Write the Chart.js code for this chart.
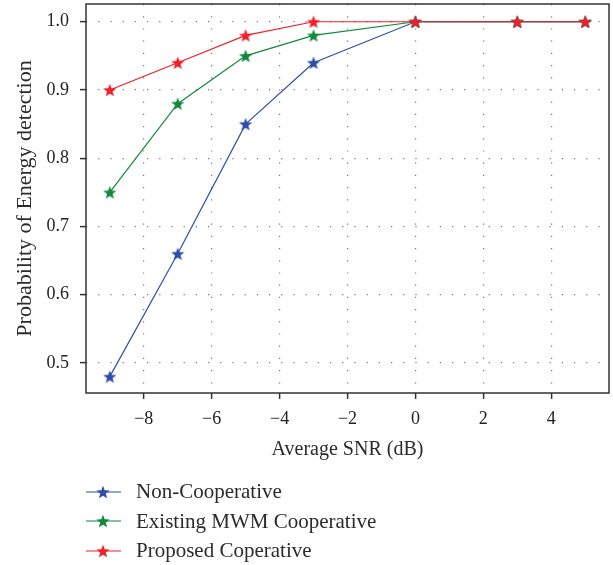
<!DOCTYPE html>
<html>
<head>
<meta charset="utf-8">
<script src="https://cdn.jsdelivr.net/npm/chart.js@4/dist/chart.umd.min.js"></script>
<style>
    body { margin: 0; background: #fff; font-family: "Liberation Serif", "DejaVu Serif", serif; }
    #wrap { position: relative; width: 613px; height: 470px; }
    #legend { padding-left: 86px; margin-top: 7px; }
    .item { display: flex; align-items: center; height: 29.5px; font-size: 21px; color: #2b2b2b; }
    .item canvas { margin-right: 15px; }
</style>
</head>
<body>
<div id="wrap"><canvas id="snrChart"></canvas></div>
<div id="legend"></div>
<script>
const snrValues = [-9, -7, -5, -3, 0, 3, 5];
const nonCooperative = [0.48, 0.66, 0.85, 0.94, 1.0, 1.0, 1.0];
const existingMwm = [0.75, 0.88, 0.95, 0.98, 1.0, 1.0, 1.0];
const proposedCoop = [0.90, 0.94, 0.98, 1.0, 1.0, 1.0, 1.0];

const xTicks = [-8, -6, -4, -2, 0, 2, 4];
const yTicks = [0.5, 0.6, 0.7, 0.8, 0.9, 1.0];

const seriesNames = ['Non-Cooperative', 'Existing MWM Cooperative', 'Proposed Coperative'];
const seriesColors = ['#2f4fa6', '#11893d', '#f0202a'];
const seriesValues = [nonCooperative, existingMwm, proposedCoop];

const FONT = '"Liberation Serif", "DejaVu Serif", serif';

function starImage(color, size) {
    const c = document.createElement('canvas');
    c.width = size; c.height = size;
    const g = c.getContext('2d');
    const cx = size / 2, cy = size / 2 + size * 0.05;
    const R = size / 2, r = R * 0.42;
    g.beginPath();
    for (let i = 0; i < 10; i++) {
        const rad = i % 2 === 0 ? R : r;
        const a = -Math.PI / 2 + i * Math.PI / 5;
        g.lineTo(cx + rad * Math.cos(a), cy + rad * Math.sin(a));
    }
    g.closePath();
    g.fillStyle = color;
    g.fill();
    return c;
}

const frame = {
    id: 'frame',
    afterDatasetsDraw(chart) {
        const a = chart.chartArea;
        const ctx = chart.ctx;
        ctx.save();
        ctx.strokeStyle = '#333';
        ctx.lineWidth = 1.5;
        ctx.strokeRect(a.left, a.top, a.right - a.left, a.bottom - a.top);
        ctx.restore();
    }
};

function noPad(axis) {
    axis.paddingTop = 0;
    axis.paddingBottom = 0;
    axis.paddingLeft = 0;
    axis.paddingRight = 0;
}

const datasets = seriesNames.map((name, i) => ({
    label: name,
    data: snrValues.map((x, j) => ({ x: x, y: seriesValues[i][j] })),
    borderColor: seriesColors[i],
    backgroundColor: seriesColors[i],
    borderWidth: 1.2,
    pointStyle: starImage(seriesColors[i], 14),
    pointRadius: 7,
    order: 3 - i
}));

const ctx = document.getElementById('snrChart').getContext('2d');
new Chart(ctx, {
    type: 'line',
    data: { datasets: datasets },
    plugins: [frame],
    options: {
        responsive: true,
        maintainAspectRatio: false,
        animation: false,
        layout: { autoPadding: false, padding: { top: 4, right: 4, left: 0, bottom: 0 } },
        scales: {
            x: {
                type: 'linear',
                min: -9.7,
                max: 5.7,
                afterBuildTicks: axis => { axis.ticks = xTicks.map(v => ({ value: v })); },
                afterFit: axis => { axis.height = 77; noPad(axis); },
                ticks: {
                    font: { family: FONT, size: 18 },
                    color: '#222',
                    padding: 9,
                    maxRotation: 0,
                    callback: v => (v < 0 ? '\u2212' + Math.abs(v) : String(v))
                },
                grid: { color: '#777', lineWidth: 1.2, tickColor: '#333', tickLength: 6, tickWidth: 1.5 },
                border: { display: false, dash: [1.2, 11] },
                title: { display: true, text: 'Average SNR (dB)', font: { family: FONT, size: 20 }, color: '#2b2b2b', padding: { top: 4, bottom: 8 } }
            },
            y: {
                min: 0.456,
                max: 1.026,
                afterBuildTicks: axis => { axis.ticks = yTicks.map(v => ({ value: v })); },
                afterFit: axis => { axis.width = 86; noPad(axis); },
                ticks: {
                    font: { family: FONT, size: 18 },
                    color: '#222',
                    padding: 11,
                    callback: v => v.toFixed(1)
                },
                grid: { color: '#777', lineWidth: 1.2, tickColor: '#333', tickLength: 6, tickWidth: 1.5 },
                border: { display: false, dash: [1.2, 11] },
                title: { display: true, text: 'Probability of Energy detection', font: { family: FONT, size: 22 }, color: '#2b2b2b', padding: { top: 12, bottom: 2 } }
            }
        },
        plugins: {
            legend: { display: false },
            tooltip: { enabled: false }
        }
    }
});

// legend below the chart, stacked
const legend = document.getElementById('legend');
seriesNames.forEach((name, i) => {
    const row = document.createElement('div');
    row.className = 'item';
    const c = document.createElement('canvas');
    c.width = 35; c.height = 16;
    const g = c.getContext('2d');
    g.strokeStyle = seriesColors[i];
    g.lineWidth = 1.2;
    g.beginPath(); g.moveTo(0, 8); g.lineTo(35, 8); g.stroke();
    g.drawImage(starImage(seriesColors[i], 14), 10, 1);
    row.appendChild(c);
    const span = document.createElement('span');
    span.textContent = name;
    row.appendChild(span);
    legend.appendChild(row);
});
</script>
</body>
</html>
